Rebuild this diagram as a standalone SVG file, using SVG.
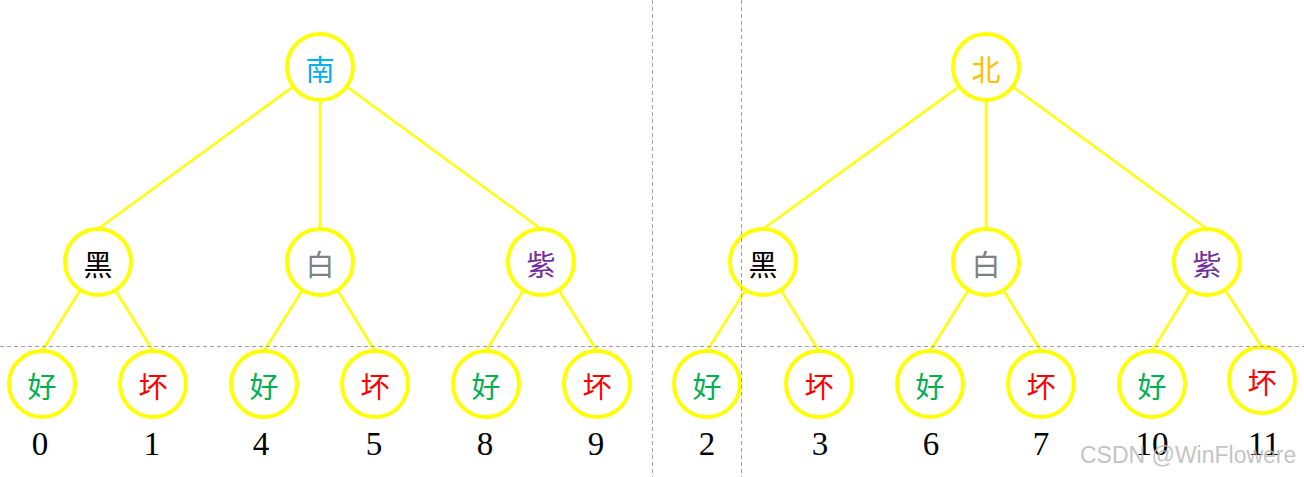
<svg xmlns="http://www.w3.org/2000/svg" width="1304" height="477" viewBox="0 0 1304 477">
<style>
.n circle{fill:#fff;stroke:#ffff00;stroke-width:4}
.n text{font-family:"Noto Sans CJK SC",sans-serif;font-size:29px;text-anchor:middle;dominant-baseline:central}
.e line{stroke:#ffff00;stroke-width:2.5}
.g line{stroke:#a0a0a0;stroke-width:1;stroke-dasharray:4 3}
.num{font-family:"Liberation Serif",serif;font-size:33px;text-anchor:middle;fill:#000}
.wm{font-family:"Liberation Sans",sans-serif;font-size:23px;fill:#b8b8b8;fill-opacity:0.85}
</style>
<rect width="1304" height="477" fill="#fff"/>
<g class="e" id="connectors">
<line x1="320" y1="67" x2="98" y2="229"/>
<line x1="320" y1="67" x2="320" y2="229"/>
<line x1="320" y1="67" x2="541" y2="229"/>
<line x1="98" y1="262" x2="42" y2="351"/>
<line x1="98" y1="262" x2="153" y2="351"/>
<line x1="320" y1="262" x2="264" y2="351"/>
<line x1="320" y1="262" x2="375" y2="351"/>
<line x1="541" y1="262" x2="486" y2="351"/>
<line x1="541" y1="262" x2="597" y2="351"/>
<line x1="986" y1="67" x2="763" y2="229"/>
<line x1="986" y1="67" x2="986" y2="229"/>
<line x1="986" y1="67" x2="1207" y2="229"/>
<line x1="763" y1="262" x2="707" y2="351"/>
<line x1="763" y1="262" x2="819" y2="351"/>
<line x1="986" y1="262" x2="930" y2="351"/>
<line x1="986" y1="262" x2="1041" y2="351"/>
<line x1="1207" y1="262" x2="1152" y2="351"/>
<line x1="1207" y1="262" x2="1262" y2="347"/>
</g>
<g class="n" id="nan"><circle cx="320" cy="67" r="33"/><text x="320" y="68" fill="#00b0f0">南</text></g>
<g class="n" id="bei"><circle cx="986" cy="67" r="33"/><text x="986" y="68" fill="#ffc000">北</text></g>
<g class="n" id="hei1"><circle cx="98" cy="262" r="33"/><text x="98" y="263" fill="#000">黑</text></g>
<g class="n" id="bai1"><circle cx="320" cy="262" r="33"/><text x="320" y="263" fill="#808080">白</text></g>
<g class="n" id="zi1"><circle cx="541" cy="262" r="33"/><text x="541" y="263" fill="#7030a0">紫</text></g>
<g class="n" id="hei2"><circle cx="763" cy="262" r="33"/><text x="763" y="263" fill="#000">黑</text></g>
<g class="n" id="bai2"><circle cx="986" cy="262" r="33"/><text x="986" y="263" fill="#808080">白</text></g>
<g class="n" id="zi2"><circle cx="1207" cy="262" r="33"/><text x="1207" y="263" fill="#7030a0">紫</text></g>
<g class="n" id="hao0"><circle cx="42" cy="384" r="33"/><text x="42" y="385" fill="#00b050">好</text></g>
<g class="n" id="huai1"><circle cx="153" cy="384" r="33"/><text x="153" y="385" fill="#ff0000">坏</text></g>
<g class="n" id="hao4"><circle cx="264" cy="384" r="33"/><text x="264" y="385" fill="#00b050">好</text></g>
<g class="n" id="huai5"><circle cx="375" cy="384" r="33"/><text x="375" y="385" fill="#ff0000">坏</text></g>
<g class="n" id="hao8"><circle cx="486" cy="384" r="33"/><text x="486" y="385" fill="#00b050">好</text></g>
<g class="n" id="huai9"><circle cx="597" cy="384" r="33"/><text x="597" y="385" fill="#ff0000">坏</text></g>
<g class="n" id="hao2"><circle cx="707" cy="384" r="33"/><text x="707" y="385" fill="#00b050">好</text></g>
<g class="n" id="huai3"><circle cx="819" cy="384" r="33"/><text x="819" y="385" fill="#ff0000">坏</text></g>
<g class="n" id="hao6"><circle cx="930" cy="384" r="33"/><text x="930" y="385" fill="#00b050">好</text></g>
<g class="n" id="huai7"><circle cx="1041" cy="384" r="33"/><text x="1041" y="385" fill="#ff0000">坏</text></g>
<g class="n" id="hao10"><circle cx="1152" cy="384" r="33"/><text x="1152" y="385" fill="#00b050">好</text></g>
<g class="n" id="huai11"><circle cx="1262" cy="380" r="33"/><text x="1262" y="381" fill="#ff0000">坏</text></g>
<g id="numbers">
<text class="num" x="40" y="455">0</text>
<text class="num" x="152" y="455">1</text>
<text class="num" x="261" y="455">4</text>
<text class="num" x="374" y="455">5</text>
<text class="num" x="485" y="455">8</text>
<text class="num" x="596" y="455">9</text>
<text class="num" x="707" y="455">2</text>
<text class="num" x="820" y="455">3</text>
<text class="num" x="931" y="455">6</text>
<text class="num" x="1041" y="455">7</text>
<text class="num" x="1152" y="455">10</text>
<text class="num" x="1264" y="455">11</text>
</g>
<g class="g" id="guides">
<line x1="0" y1="346.5" x2="1304" y2="346.5"/>
<line x1="652.5" y1="0" x2="652.5" y2="477"/>
<line x1="741.5" y1="0" x2="741.5" y2="477"/>
</g>
<text class="wm" x="1080" y="463">CSDN @WinFlowere</text>
</svg>
